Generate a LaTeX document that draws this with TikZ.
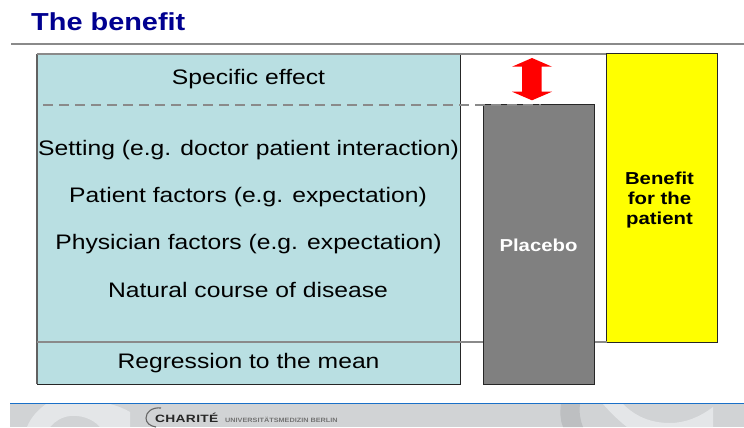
\documentclass[tikz,border=0pt]{standalone}
\usepackage{fontspec}
\setmainfont{Liberation Sans}
\newfontfamily\widefont[FakeStretch=1.175]{Liberation Sans}
\newfontfamily\widerfont[FakeStretch=1.3,LetterSpace=3]{Liberation Sans}
\definecolor{teal}{HTML}{B9DFE2}
\definecolor{rulegray}{HTML}{8A8A8A}
\definecolor{boxgray}{HTML}{808080}
\definecolor{titleblue}{HTML}{000090}
\definecolor{pureyellow}{HTML}{FFFF00}
\definecolor{purered}{HTML}{FF0000}
\definecolor{foot}{HTML}{D1D3D5}
\definecolor{footlight}{HTML}{E4E6E8}
\definecolor{footdark}{HTML}{BDBFC1}
\definecolor{footblue}{HTML}{1A70C8}
\tikzset{
  lbl/.style={font=\widefont\fontsize{21bp}{24bp}\selectfont,text=black,inner sep=0pt,anchor=base},
  boxlbl/.style={font=\widefont\bfseries\fontsize{17.3bp}{20bp}\selectfont,align=center,inner sep=0pt},
  grayline/.style={draw=rulegray,line width=2bp}
}
\begin{document}
\begin{tikzpicture}[x=1bp,y=-1bp]
\useasboundingbox (0,0) rectangle (744,427);
\fill[white] (0,0) rectangle (744,427);
% title
\node[font=\widefont\bfseries\fontsize{24.6bp}{28bp}\selectfont,text=titleblue,anchor=base west,inner sep=0pt] (title) at (31,30) {The benefit};
\draw[grayline] (11,43.7) -- (744,43.7);
% boxes
\fill[teal] (37,54) rectangle (460,384);
\draw[black!85,line width=1bp] (460,54) -- (460,384) -- (37,384);
\draw[rulegray!70!black,line width=1.3bp] (37,384) -- (37,54);
\draw[grayline] (37,54) -- (606,54);
\draw[draw=black!85,fill=boxgray,line width=1bp] (483,104.5) rectangle (594.5,384);
\draw[draw=black!85,fill=pureyellow,line width=1bp] (606.5,53.5) rectangle (717.5,342.5);
\draw[grayline] (37,342) -- (483,342);
\draw[grayline] (594.5,342) -- (606.5,342);
\draw[rulegray,line width=2bp,dash pattern=on 9.5bp off 6.5bp] (43,105) -- (541,105);
% arrow
\fill[purered] (532,58) -- (552,66.7) -- (541.7,66.7) -- (541.7,91.7) -- (552,91.7) -- (532,100.3) -- (512,91.7) -- (522,91.7) -- (522,66.7) -- (512,66.7) -- cycle;
% labels
\node[lbl] (spec) at (248.5,84) {Specific effect};
\node[lbl] (set) at (248.5,155) {Setting (e.g. doctor patient interaction)};
\node[lbl] (pat) at (248,202) {Patient factors (e.g. expectation)};
\node[lbl] (phy) at (248.5,249) {Physician factors (e.g. expectation)};
\node[lbl] (nat) at (248,297) {Natural course of disease};
\node[lbl] (reg) at (248.5,368) {Regression to the mean};
\node[boxlbl,text=white] (plc) at (538.5,245) {Placebo};
\node[boxlbl,text=black] (ben) at (659.5,200.5) {Benefit\\for the\\patient};
% footer
\begin{scope}
\clip (10,403) rectangle (744,427);
\fill[foot] (10,403) rectangle (744,427);
\fill[footlight] (27,427) .. controls (31,417) and (38,410) .. (46,404) -- (110,404) .. controls (118,406) and (125,409) .. (130,412) -- (130,427) -- (100,427) .. controls (92,418) and (80,415) .. (70,416) .. controls (62,417) and (55,421) .. (50,427) -- cycle;
\fill[footdark] (561,404) -- (580,404) .. controls (579,412) and (580,420) .. (583,427) -- (563,427) .. controls (560,420) and (560,412) .. (561,404) -- cycle;
\fill[footlight] (603,404) -- (623,404) .. controls (635,416) and (650,423) .. (670,423) .. controls (685,423) and (700,417) .. (713,407) -- (713,427) -- (627,427) .. controls (618,420) and (610,412) .. (603,404) -- cycle;
\fill[footblue] (10,402.8) rectangle (744,404.4);
\end{scope}
\begin{scope}
\clip (140,404) rectangle (170,427);
\draw[black!60,line width=1.1bp] (161,408) .. controls (152,407) and (146,412) .. (146,418) .. controls (146,423) and (150,426) .. (156,427);
\end{scope}
\node[font=\widerfont\bfseries\fontsize{10.6bp}{12bp}\selectfont,anchor=base west,inner sep=0pt,text=black!85] (ch) at (155,422.5) {CHARITÉ};
\node[font=\widefont\bfseries\fontsize{6.2bp}{7bp}\selectfont,anchor=base west,inner sep=0pt,text=black!55] (un) at (225,422.5) {UNIVERSITÄTSMEDIZIN BERLIN};
\end{tikzpicture}
\end{document}
